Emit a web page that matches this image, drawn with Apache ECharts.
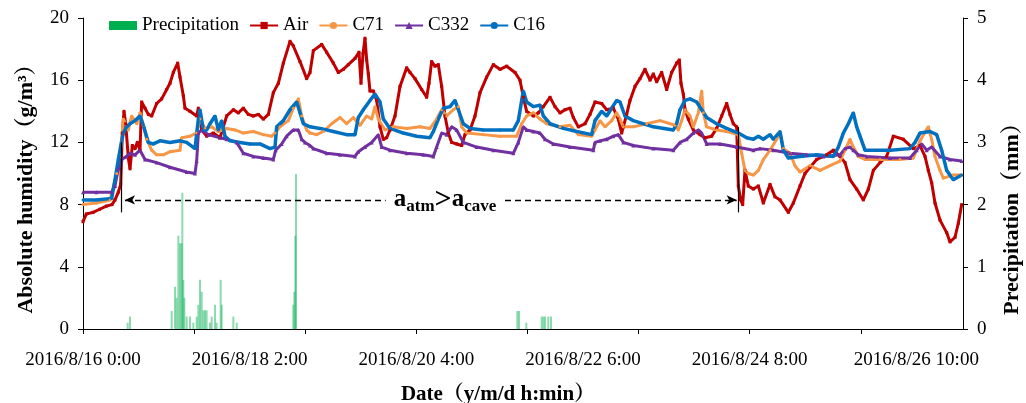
<!DOCTYPE html>
<html>
<head>
<meta charset="utf-8">
<script src="https://cdn.jsdelivr.net/npm/echarts@6/dist/echarts.min.js"></script>
<style>
  html, body { margin: 0; padding: 0; background: #fff; }
  #container { width: 1026px; height: 403px; }
</style>
</head>
<body>
<div id="container"></div>
<script>
/* hours since 2016/8/16 0:00 */
var dateLabels = ['2016/8/16 0:00', '2016/8/18 2:00', '2016/8/20 4:00', '2016/8/22 6:00', '2016/8/24 8:00', '2016/8/26 10:00'];
var labelHours = [0, 50, 100, 150, 200, 250];
var tickHours = [0, 33.3333, 66.6667, 100, 133.3333, 166.6667, 200, 233.3333];

/*降水 mm*/
var rainData = [[13.4,0.1],[14.1,0.2],[26.6,0.29],[27.6,0.68],[28.1,0.5],[28.6,1.5],[29.1,1.38],[29.6,1.38],[29.8,2.19],[30.1,0.79],
  [30.4,0.5],[31.1,0.2],[32.1,0.2],[33.1,0.1],[34.1,0.2],[34.6,0.39],[35.1,0.79],[35.6,0.6],[36.1,0.3],[36.6,0.3],[37.1,0.3],
  [38.1,0.1],[38.6,0.2],[39.6,0.39],[40.1,0.1],[41.3,0.79],[41.6,0.39],[45.1,0.2],[46.1,0.1],[63.1,0.39],[63.4,0.6],[63.7,1.5],
  [63.9,2.49],[130.3,0.29],[130.8,0.29],[133,0.1],[137.6,0.2],[138.1,0.2],[138.6,0.2],[139.6,0.2],[140.4,0.2]];

/*Air*/
var airData = [[0,6.9],[1,7.4],[3,7.5],[5,7.7],[7,7.9],[8.7,8.0],[9.6,8.3],[10.6,8.8],[11.3,9.3],[11.8,12.6],[12.3,14.0],[12.8,13.2],
  [13.6,11.0],[14.1,10.3],[14.8,11.8],[15.6,11.6],[16.3,12.0],[17.1,11.5],[17.6,14.6],[18.6,14.2],[19.6,13.8],[20.6,13.7],[22.1,14.5],
  [23.6,14.8],[25.1,15.4],[26.1,15.8],[27.1,16.5],[28.4,17.1],[29.1,16.2],[30.1,15.0],[30.6,14.2],[32.1,14.0],[34.1,13.7],[34.6,14.2],
  [35.6,12.8],[37.1,12.4],[39.1,12.6],[41.1,12.3],[43.1,13.7],[45.1,14.1],[46.6,13.9],[48.1,14.2],[49.6,13.8],[51.1,13.7],[52.6,13.8],
  [54.1,13.5],[55.6,13.8],[57.1,15.2],[58.6,15.8],[60.1,17.1],[62.1,18.5],[63.1,18.2],[65.1,17.2],[67.1,16.1],[68.1,16.5],[69.1,17.9],
  [71.6,18.3],[73.1,17.8],[75.1,17.1],[76.6,16.5],[78.1,16.7],[79.6,17.0],[81.6,17.4],[82.8,17.8],[83.4,15.8],[84.0,17.7],[84.6,18.7],
  [85.1,17.3],[85.6,16.4],[86.1,15.3],[87.1,15.3],[88.1,14.7],[89.1,13.0],[90.1,12.2],[91.1,12.3],[92.1,12.8],[93.6,13.7],[95.1,15.6],
  [97.1,16.8],[98.1,16.5],[99.6,16.1],[101.6,15.4],[103.1,14.9],[103.8,15.8],[104.6,17.2],[105.6,16.9],[106.6,17.0],[107.6,15.6],
  [108.6,13.7],[109.6,12.6],[110.6,12.0],[112.1,11.9],[113.6,11.8],[114.6,12.5],[116.1,12.8],[117.6,13.7],[119.1,15.2],[121.1,16.2],
  [123.1,17.0],[125.1,16.7],[127.1,16.9],[129.6,16.5],[131.1,16.0],[132.1,14.9],[133.1,14.0],[135.1,13.7],[136.6,13.9],[138.1,14.3],
  [140.1,14.9],[141.6,14.3],[143.1,13.9],[144.6,14.1],[146.1,14.2],[147.1,13.6],[148.6,13.0],[150.6,13.2],[152.1,13.8],[153.6,14.6],
  [155.6,14.5],[157.1,14.1],[159.1,14.2],[160.6,13.5],[161.6,12.6],[162.1,13.0],[163.1,13.8],[164.1,14.7],[165.6,15.6],[167.1,16.1],
  [168.6,16.7],[170.1,16.0],[171.1,16.4],[172.1,15.9],[173.6,16.5],[175.1,15.4],[176.6,16.5],[178.1,17.1],[178.9,17.3],[179.4,15.8],
  [180.1,15.1],[180.6,14.1],[181.6,13.5],[183.1,12.8],[185.1,12.5],[186.6,12.3],[188.6,12.4],[190.1,12.9],[191.6,13.7],[193.1,14.5],
  [194.1,13.8],[195.1,13.2],[196.1,13.0],[196.6,9.2],[197.3,8.3],[197.9,8.0],[198.6,10.2],[199.6,9.2],[201.1,9.0],[202.6,9.2],
  [204.1,8.1],[206.1,9.3],[207.6,8.5],[209.1,8.3],[211.6,7.5],[213.1,8.1],[215.1,9.2],[216.6,10.0],[218.1,10.4],[220.1,10.9],
  [223.1,11.2],[225.1,11.5],[227.1,11.1],[228.6,10.7],[230.1,9.6],[232.1,9.0],[234.1,8.3],[235.6,9.0],[237.1,10.2],[239.1,10.7],
  [241.1,11.1],[243.1,12.4],[246.1,12.2],[249.1,11.6],[251.1,11.8],[252.6,11.1],[253.6,10.2],[254.6,9.4],[255.6,8.1],[257.1,7.0],
  [259.1,6.2],[260.1,5.6],[261.6,5.9],[262.6,6.8],[263.6,8.0]];

/*C71*/
var c71Data = [[0,8.0],[4,8.1],[8.1,8.3],[10.1,10.0],[11.6,12.1],[12.1,13.5],[13.6,12.8],[14.6,13.7],[16.1,13.2],[17.1,13.9],[18.1,13.1],
  [19.1,12.2],[20.6,11.5],[22.1,11.2],[24.1,11.2],[26.1,11.4],[29.1,11.5],[29.6,12.3],[32.1,12.4],[34.1,12.6],[35.1,13.5],[36.6,12.9],
  [38.6,13.0],[40.6,12.7],[43.1,12.9],[45.6,12.8],[48.1,12.6],[51.1,12.7],[54.1,12.5],[56.6,12.4],[57.6,12.6],[59.1,13.0],[61.6,13.4],
  [63.1,14.2],[64.6,14.8],[65.6,13.7],[67.1,12.8],[68.1,12.6],[70.1,12.5],[72.1,12.7],[74.6,13.2],[77.1,13.6],[79.1,13.2],[81.1,13.6],
  [83.1,13.1],[85.1,13.7],[86.6,13.5],[87.6,14.3],[88.6,13.5],[90.6,12.8],[93.1,13.0],[97.1,12.9],[101.1,13.0],[104.1,12.9],[106.1,13.5],
  [107.6,14.1],[109.1,13.7],[111.1,14.1],[112.6,14.3],[113.6,13.0],[115.1,12.6],[120.1,12.5],[125.1,12.4],[130.1,12.4],[131.6,13.2],
  [133.1,13.7],[135.1,13.9],[137.1,13.5],[139.1,13.2],[143.1,13.0],[146.1,13.1],[148.6,12.5],[152.6,12.4],[153.6,12.8],[155.1,13.4],
  [156.6,13.0],[158.6,13.4],[160.1,13.9],[161.1,13.5],[162.1,13.0],[165.1,13.0],[169.1,13.2],[173.1,13.4],[177.6,13.1],[178.6,12.8],
  [179.6,13.4],[180.6,14.1],[182.1,13.7],[183.1,13.0],[184.6,13.9],[185.6,15.3],[186.1,13.9],[187.1,13.0],[190.1,12.8],[193.1,12.7],
  [196.6,12.5],[197.6,11.3],[198.6,10.2],[199.6,10.0],[201.1,9.9],[202.6,10.2],[204.1,10.9],[206.1,11.5],[208.1,12.2],[209.1,12.7],
  [210.1,11.6],[212.1,11.3],[213.6,10.5],[215.1,10.1],[218.1,10.5],[221.1,10.2],[224.1,10.5],[227.1,10.8],[228.6,11.5],[230.1,12.2],
  [231.1,11.7],[232.6,11.1],[234.6,10.9],[239.1,10.9],[245.1,10.9],[249.1,11.0],[251.1,12.1],[253.6,13.0],[254.6,12.2],[255.6,11.1],
  [257.1,10.2],[258.1,9.7],[261.1,9.9],[263.6,9.9]];

/*C332*/
var c332Data = [[0,8.8],[4,8.8],[8.6,8.8],[9.6,9.2],[10.6,10.3],[11.6,10.9],[13.1,11.1],[14.1,11.3],[15.6,11.2],[17.1,11.5],[18.6,10.9],
  [22.1,10.7],[26.1,10.4],[31.1,10.1],[33.6,10.0],[34.1,10.8],[34.6,12.6],[35.6,12.8],[37.6,12.5],[41.1,12.3],[43.1,12.2],[46.1,12.0],
  [48.1,11.3],[51.1,11.1],[54.1,11.0],[57.1,10.9],[57.8,11.5],[59.6,11.9],[61.1,12.4],[63.1,12.8],[64.6,12.8],[65.6,12.2],[66.6,12.0],
  [68.1,11.8],[69.1,11.6],[73.1,11.3],[77.1,11.2],[81.6,11.1],[82.6,11.4],[84.6,11.7],[86.6,12.0],[88.6,12.5],[89.6,11.7],[92.1,11.5],
  [97.1,11.3],[102.1,11.2],[105.1,11.1],[106.1,11.7],[107.6,12.6],[109.1,12.5],[110.6,13.0],[112.1,12.8],[114.1,12.0],[118.1,11.7],
  [123.1,11.5],[129.1,11.3],[130.6,12.0],[132.1,13.0],[133.1,12.8],[135.1,12.7],[137.1,12.6],[138.6,12.2],[141.1,11.9],[146.1,11.7],
  [153.1,11.5],[153.6,12.0],[155.1,12.1],[157.1,12.2],[159.1,12.4],[160.6,12.5],[162.1,12.0],[165.1,11.8],[171.1,11.6],[177.1,11.5],
  [179.1,12.0],[181.1,12.2],[183.1,12.6],[184.6,12.8],[185.6,12.6],[187.1,11.9],[191.1,11.9],[196.1,11.7],[201.1,11.5],[203.1,11.6],
  [207.1,11.5],[212.1,11.3],[217.1,11.2],[222.1,11.1],[227.1,11.2],[228.6,11.6],[230.1,11.7],[231.1,11.5],[232.6,11.2],[235.1,11.1],
  [242.1,11.0],[248.1,11.0],[250.1,11.5],[251.6,11.9],[253.1,11.5],[254.6,11.7],[257.1,11.1],[260.1,10.9],[263.6,10.8]];

/*C16*/
var c16Data = [[0,8.3],[4,8.3],[8.6,8.4],[9.6,9.6],[10.6,10.9],[11.6,12.1],[12.1,12.6],[13.1,13.0],[14.1,13.2],[15.6,13.4],[17.1,13.7],
  [18.1,13.1],[19.6,12.0],[21.1,11.9],[23.1,12.1],[26.1,12.0],[29.1,12.1],[31.1,12.0],[33.6,11.6],[34.1,11.7],[34.6,13.5],[35.1,14.1],
  [36.1,12.8],[37.1,12.8],[38.1,13.2],[39.6,13.7],[40.6,12.8],[41.6,13.4],[42.6,12.4],[44.1,12.1],[47.1,12.0],[50.1,11.9],[53.1,11.9],
  [56.1,11.6],[57.6,11.7],[58.1,13.0],[60.1,13.4],[62.1,14.1],[64.1,14.6],[65.1,13.9],[66.1,13.2],[68.1,13.0],[71.1,12.9],[75.1,12.7],
  [79.1,12.5],[81.6,12.5],[82.6,13.6],[84.1,14.1],[86.1,14.7],[87.6,15.1],[89.1,14.6],[90.1,13.5],[92.1,12.9],[96.1,12.6],[100.1,12.4],
  [104.1,12.3],[105.1,12.7],[106.6,13.5],[108.1,14.2],[110.1,14.3],[111.6,14.7],[112.6,14.1],[114.1,13.2],[116.1,12.9],[120.1,12.8],
  [125.1,12.8],[129.1,12.8],[130.6,13.4],[131.6,14.7],[132.1,15.3],[133.1,14.6],[135.1,14.3],[137.1,14.4],[138.1,13.7],[140.1,13.2],
  [144.1,12.9],[148.1,12.7],[152.6,12.5],[153.6,13.4],[155.6,14.0],[157.1,13.7],[158.6,14.2],[160.1,14.7],[161.1,14.6],[162.6,13.7],
  [165.1,13.4],[171.1,13.0],[177.1,12.8],[178.1,13.2],[179.1,14.1],[180.6,14.7],[182.1,14.8],[184.1,14.6],[185.6,14.1],[187.1,13.6],
  [190.1,13.2],[193.1,12.9],[196.6,12.6],[199.1,12.3],[201.1,12.2],[202.6,12.4],[204.1,12.2],[206.1,12.5],[207.1,12.2],[209.1,12.7],
  [210.1,11.5],[211.6,11.0],[215.1,11.1],[220.1,11.2],[225.1,11.1],[226.6,11.7],[228.1,12.6],[229.6,13.2],[231.1,13.9],[232.1,13.0],
  [233.1,12.4],[234.6,11.5],[237.1,11.5],[242.1,11.5],[248.1,11.6],[249.6,12.0],[251.1,12.6],[254.1,12.7],[256.1,12.5],[257.6,11.5],
  [259.1,10.2],[261.1,9.6],[263.6,9.9]];

/*注释：a_atm > a_cave 区间*/
var markStart = 11.6, markEnd = 196.5, arrowLevel = 8.3;

var serif = "'Liberation Serif', 'Times New Roman', 'Noto Serif CJK SC', 'Noto Sans CJK SC', serif";

var dom = document.getElementById('container');
var myChart = echarts.init(dom);

var axisLineStyle = { color: '#000', width: 1 };

function lineSeries(name, data, color, symbol, size, width) {
    return {
        name: name,
        type: 'line',
        symbol: symbol,
        symbolSize: size,
        itemStyle: { color: color },
        lineStyle: { color: color, width: width },
        data: data
    };
}

var c16 = lineSeries('C16', c16Data, '#0070C0', 'circle', 3, 3.5);
c16.markLine = {
    silent: true,
    symbol: ['none', 'none'],
    label: { show: false },
    lineStyle: { color: '#000', width: 1.2, type: 'solid' },
    data: [
        [{ coord: [markStart, 12.0] }, { coord: [markStart, 7.5] }],
        [{ coord: [markEnd, 13.0] }, { coord: [markEnd, 7.5] }],
        [
            { coord: [markStart + 1, arrowLevel], symbol: 'arrow', symbolSize: [7, 10],
              lineStyle: { type: [6, 4], width: 1.3, color: '#000' } },
            { coord: [markEnd - 0.4, arrowLevel], symbol: 'arrow', symbolSize: [7, 10] }
        ]
    ]
};
c16.markPoint = {
    silent: true,
    symbol: 'rect',
    symbolSize: 1,
    itemStyle: { color: 'rgba(0,0,0,0)' },
    data: [{
        coord: [108.6, arrowLevel],
        label: {
            show: true,
            position: 'inside',
            backgroundColor: '#fff',
            padding: [0, 8, 0, 8],
            formatter: '{m|a}{s|atm}{g|>}{m|a}{s|cave}',
            rich: {
                m: { fontSize: 25, fontWeight: 'bold', color: '#000', fontFamily: serif, lineHeight: 30 },
                s: { fontSize: 17, fontWeight: 'bold', color: '#000', fontFamily: serif, lineHeight: 18, verticalAlign: 'bottom' },
                g: { fontSize: 30, fontWeight: 'bold', color: '#000', fontFamily: serif, lineHeight: 30 }
            }
        }
    }]
};

var option = {
    animation: false,
    textStyle: { fontFamily: serif },
    grid: { left: 83, right: 63, top: 18, bottom: 74, containLabel: false, outerBoundsMode: 'none' },
    legend: {
        left: 104,
        top: 11,
        itemGap: 10,
        itemWidth: 28,
        itemHeight: 9,
        textStyle: { fontSize: 19, color: '#000', fontFamily: serif },
        data: [
            { name: 'Precipitation', icon: 'rect', itemStyle: { color: '#00B050', opacity: 1 } },
            { name: 'Air', lineStyle: { width: 2 } },
            { name: 'C71', lineStyle: { width: 2 } },
            { name: 'C332', lineStyle: { width: 2 } },
            { name: 'C16', lineStyle: { width: 2 } }
        ]
    },
    xAxis: {
        type: 'value',
        min: 0,
        max: 264,
        name: 'Date（y/m/d h:min）',
        nameLocation: 'middle',
        nameGap: 55,
        nameTextStyle: { fontSize: 21, fontWeight: 'bold', color: '#000', fontFamily: serif, padding: [0, 50, 0, 0] },
        axisLine: { show: true, lineStyle: axisLineStyle },
        axisTick: { show: true, inside: false, length: 5, lineStyle: axisLineStyle, customValues: tickHours },
        axisLabel: {
            fontSize: 19, color: '#000', margin: 22, fontFamily: serif,
            customValues: labelHours,
            formatter: function (value) {
                var i = labelHours.indexOf(Math.round(value));
                return i >= 0 ? dateLabels[i] : '';
            }
        },
        splitLine: { show: false }
    },
    yAxis: [
        {
            type: 'value',
            min: 0, max: 20, interval: 4,
            name: 'Absolute humidity（g/m³）',
            nameLocation: 'middle',
            nameGap: 46,
            nameTextStyle: { fontSize: 22, fontWeight: 'bold', color: '#000', fontFamily: serif, padding: [0, 20, 0, 0] },
            axisLine: { show: true, lineStyle: axisLineStyle },
            axisTick: { show: true, inside: false, length: 5, lineStyle: axisLineStyle },
            axisLabel: { fontSize: 19, color: '#000', margin: 14, fontFamily: serif },
            splitLine: { show: false }
        },
        {
            type: 'value',
            min: 0, max: 5, interval: 1,
            position: 'right',
            name: 'Precipitation（mm）',
            nameLocation: 'middle',
            nameGap: 38,
            nameTextStyle: { fontSize: 22, fontWeight: 'bold', color: '#000', fontFamily: serif, padding: [0, 80, 0, 0] },
            axisLine: { show: true, lineStyle: axisLineStyle },
            axisTick: { show: true, inside: false, length: 5, lineStyle: axisLineStyle },
            axisLabel: { fontSize: 19, color: '#000', margin: 14, fontFamily: serif },
            splitLine: { show: false }
        }
    ],
    series: [
        {
            name: 'Precipitation',
            type: 'bar',
            yAxisIndex: 1,
            barWidth: 2,
            itemStyle: { color: 'rgba(0,176,80,0.45)' },
            data: rainData
        },
        lineSeries('Air', airData, '#C00000', 'rect', 3, 3),
        lineSeries('C71', c71Data, '#F79646', 'circle', 3, 3),
        lineSeries('C332', c332Data, '#7030A0', 'triangle', 4, 3),
        c16
    ]
};

if (option && typeof option === "object") {
    myChart.setOption(option, true);
}
</script>
</body>
</html>
